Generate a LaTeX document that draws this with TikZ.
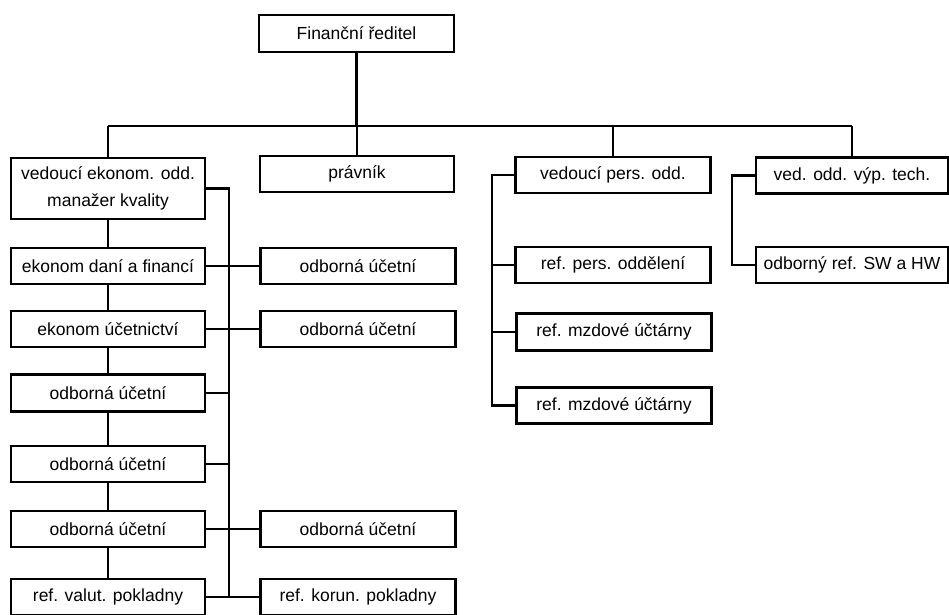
\documentclass[tikz,border=0pt]{standalone}
\usepackage{fontspec}
\setmainfont{Liberation Sans}
\begin{document}
\begin{tikzpicture}[x=1pt,y=-1pt,
  box/.style={draw, line width=2.8pt, rectangle, inner sep=0pt,
    minimum width=194pt, minimum height=36pt,
    font=\fontsize{17.5}{27}\selectfont, align=center},
  link/.style={line width=2.8pt}]
\useasboundingbox (0,0) rectangle (949,614);

% top level
\node[box, minimum width=195pt, minimum height=37pt] (fr) at (356.5,33.5) {Finanční ředitel};

% second level
\node[box, minimum height=61pt] (vek) at (108,188.5) {vedoucí ekonom. odd.\\manažer kvality};
\node[box] (prav) at (357,174) {právník};
\node[box, minimum width=195pt] (vpo) at (613,175) {vedoucí pers. odd.};
\node[box, minimum width=192pt] (vvt) at (852,175.5) {ved. odd. výp. tech.};

% economics department, left column
\node[box] (edf) at (108,266) {ekonom daní a financí};
\node[box] (eu)  at (108,329) {ekonom účetnictví};
\node[box, minimum height=37pt] (l3) at (108,393) {odborná účetní};
\node[box] (l4)  at (108,464) {odborná účetní};
\node[box] (l5)  at (108,529) {odborná účetní};
\node[box] (rvp) at (108,597) {ref. valut. pokladny};

% economics department, right column
\node[box, minimum width=195pt] (r1)  at (358,266) {odborná účetní};
\node[box, minimum width=195pt] (r2)  at (358,329) {odborná účetní};
\node[box, minimum width=195pt] (r3)  at (358,529) {odborná účetní};
\node[box, minimum width=195pt] (rkp) at (358,597) {ref. korun. pokladny};

% personnel department
\node[box, minimum width=195pt] (rpo)  at (613,265) {ref. pers. oddělení};
\node[box, minimum width=195pt, minimum height=37pt] (rmu1) at (614,332) {ref. mzdové účtárny};
\node[box, minimum width=195pt] (rmu2) at (614,405.5) {ref. mzdové účtárny};

% IT department
\node[box, minimum width=192pt] (sw) at (852,265) {odborný ref. SW a HW};

% helper coordinates for the buses
\coordinate (busY) at (0,126);
\coordinate (lx) at (229,0);
\coordinate (px) at (492,0);
\coordinate (ix) at (732,0);

% director to second level
\draw[link] (fr.south) -- (fr.south |- busY);
\draw[link] (vek.north |- busY) -- (vvt.north |- busY);
\draw[link] (vek.north |- busY) -- (vek.north);
\draw[link] (prav.north |- busY) -- (prav.north);
\draw[link] (vpo.north |- busY) -- (vpo.north);
\draw[link] (vvt.north |- busY) -- (vvt.north);

% left chain
\draw[link] (vek.south) -- (edf.north);
\draw[link] (edf.south) -- (eu.north);
\draw[link] (eu.south) -- (l3.north);
\draw[link] (l3.south) -- (l4.north);
\draw[link] (l4.south) -- (l5.north);
\draw[link] (l5.south) -- (rvp.north);

% economics bus
\draw[link] (vek.east) -| (lx |- rvp.east);
\draw[link] (edf.east) -- (r1.west);
\draw[link] (eu.east) -- (r2.west);
\draw[link] (l3.east) -- (l3.east -| lx);
\draw[link] (l4.east) -- (l4.east -| lx);
\draw[link] (l5.east) -- (r3.west);
\draw[link] (rvp.east) -- (rkp.west);

% personnel bracket
\draw[link] (vpo.west) -| (px |- rmu2.west) -- (rmu2.west);
\draw[link] (rpo.west) -- (rpo.west -| px);
\draw[link] (rmu1.west) -- (rmu1.west -| px);

% IT bracket
\draw[link] (vvt.west) -| (ix |- sw.west) -- (sw.west);
\end{tikzpicture}
\end{document}
